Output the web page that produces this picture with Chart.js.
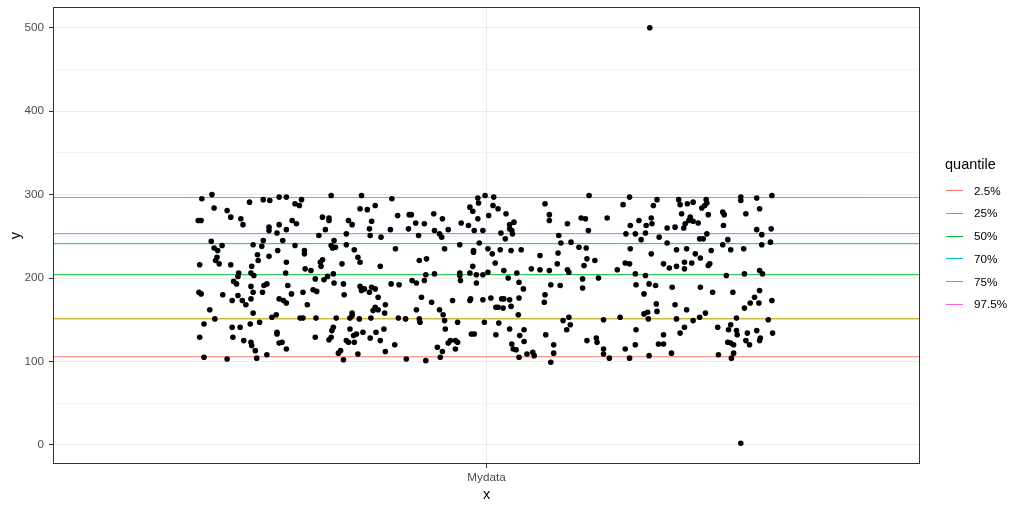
<!DOCTYPE html>
<html>
<head>
<meta charset="utf-8">
<script src="https://cdn.jsdelivr.net/npm/chart.js@4"></script>
<style>
  html, body { margin: 0; padding: 0; background: #fff; }
  #wrap { position: relative; width: 1024px; height: 510px; }
  #legend { position: absolute; left: 0; top: 0; font-family: "Liberation Sans", Arial, sans-serif; }
  .lg-title { position: absolute; left: 945px; top: 155px; font-size: 14.5px; line-height: 18px; color: #000; white-space: nowrap; }
  .lg-line { position: absolute; left: 946px; width: 17px; height: 1px; }
  .lg-text { position: absolute; left: 974px; font-size: 11.7px; line-height: 16px; color: #000; white-space: nowrap; }
</style>
</head>
<body>
<div id="wrap"><canvas id="chart"></canvas><div id="legend"></div></div>
<script>
// categories on the x axis
const categories = ["Mydata"];

// jitter offset of every point around its category
const jitterX = [
  -0.380,-0.394,-0.328,-0.309,-0.300,-0.287,-0.277,-0.377,-0.359,-0.354,
  -0.340,-0.337,-0.399,-0.395,-0.301,-0.301,-0.287,-0.290,-0.277,-0.381,
  -0.309,-0.282,-0.377,-0.372,-0.366,-0.323,-0.311,-0.289,-0.317,-0.301,
  -0.373,-0.375,-0.370,-0.316,-0.397,-0.354,-0.325,-0.277,-0.343,-0.344,
  -0.326,-0.322,-0.278,-0.350,-0.346,-0.398,-0.395,-0.365,-0.326,-0.308,
  -0.304,-0.323,-0.310,-0.275,-0.344,-0.352,-0.338,-0.333,-0.326,-0.287,
  -0.281,-0.277,-0.383,-0.323,-0.376,-0.297,-0.291,-0.391,-0.352,-0.341,
  -0.327,-0.314,-0.290,-0.290,-0.397,-0.351,-0.336,-0.326,-0.325,-0.287,
  -0.283,-0.277,-0.320,-0.391,-0.359,-0.318,-0.304,
  -0.256,-0.265,-0.259,-0.215,-0.173,-0.175,-0.165,-0.154,-0.269,-0.263,
  -0.227,-0.218,-0.218,-0.223,-0.191,-0.186,-0.159,-0.162,-0.161,-0.146,
  -0.232,-0.194,-0.211,-0.215,-0.213,-0.209,-0.194,-0.183,-0.265,-0.252,
  -0.252,-0.178,-0.175,-0.227,-0.230,-0.229,-0.200,-0.147,-0.251,-0.243,
  -0.212,-0.220,-0.225,-0.237,-0.211,-0.198,-0.270,-0.254,-0.240,-0.235,
  -0.197,-0.175,-0.173,-0.169,-0.159,-0.154,-0.162,-0.150,-0.248,-0.154,
  -0.157,-0.150,-0.140,-0.141,-0.186,-0.186,-0.258,-0.254,-0.236,-0.208,
  -0.189,-0.176,-0.160,-0.212,-0.214,-0.189,-0.171,-0.180,-0.184,-0.153,
  -0.142,-0.237,-0.215,-0.218,-0.194,-0.191,-0.183,-0.161,-0.147,-0.202,
  -0.205,-0.178,-0.140,-0.198,
  -0.131,-0.012,-0.011,-0.023,-0.019,-0.012,-0.123,-0.107,-0.104,-0.073,
  -0.061,-0.098,-0.086,-0.035,-0.025,-0.133,-0.108,-0.072,-0.065,-0.062,
  -0.053,-0.017,-0.005,-0.094,-0.010,-0.037,-0.126,-0.058,-0.018,-0.018,
  -0.083,-0.093,-0.019,-0.084,-0.072,-0.037,-0.037,-0.023,-0.014,-0.005,
  -0.132,-0.121,-0.103,-0.097,-0.086,-0.036,-0.014,-0.090,-0.076,-0.047,
  -0.023,-0.022,-0.005,-0.097,-0.065,-0.060,-0.122,-0.112,-0.093,-0.092,
  -0.058,-0.040,-0.003,-0.057,-0.021,-0.017,-0.127,-0.053,-0.050,-0.043,
  -0.040,-0.068,-0.061,-0.043,-0.064,-0.111,-0.084,
  -0.002,0.010,0.081,0.009,0.016,0.003,0.027,0.087,0.087,0.131,
  0.038,0.032,0.032,0.035,0.036,0.020,0.026,0.112,0.100,0.103,
  0.117,0.128,0.002,0.019,0.034,0.048,0.008,0.074,0.099,0.012,
  0.098,0.002,0.024,0.042,0.062,0.074,0.087,0.112,0.114,0.030,
  0.045,0.051,0.089,0.102,0.133,0.133,0.081,0.080,0.006,0.021,
  0.024,0.032,0.045,0.013,0.016,0.023,0.034,0.044,0.017,0.106,
  0.114,0.116,0.111,0.032,0.052,0.013,0.046,0.082,0.052,0.035,
  0.093,0.037,0.041,0.056,0.064,0.066,0.093,0.045,0.089,
  0.142,0.198,0.236,0.266,0.189,0.231,0.268,0.137,0.167,0.211,
  0.228,0.229,0.221,0.199,0.141,0.193,0.206,0.220,0.250,0.261,
  0.214,0.239,0.250,0.138,0.199,0.263,0.228,0.139,0.150,0.135,
  0.192,0.198,0.245,0.253,0.263,0.181,0.206,0.220,0.155,0.207,
  0.225,0.234,0.257,0.218,0.235,0.261,0.236,0.218,0.223,0.185,
  0.224,0.162,0.263,0.207,0.268,0.245,0.139,0.152,0.153,0.206,
  0.238,0.245,0.162,0.192,0.162,0.256,0.170,0.198,0.225,
  0.270,0.286,0.278,0.304,0.305,0.302,0.298,0.352,0.352,0.374,
  0.395,0.378,0.327,0.329,0.359,0.307,0.282,0.280,0.286,0.293,
  0.275,0.273,0.328,0.374,0.394,0.381,0.305,0.295,0.300,0.334,
  0.393,0.327,0.381,0.338,0.356,0.277,0.311,0.289,0.296,0.274,
  0.284,0.309,0.307,0.274,0.378,0.382,0.332,0.357,0.296,0.313,
  0.341,0.378,0.371,0.377,0.365,0.357,0.395,0.277,0.303,0.295,
  0.286,0.346,0.390,0.274,0.338,0.320,0.335,0.346,0.347,0.361,
  0.374,0.379,0.378,0.396,0.359,0.364,0.334,0.338,0.342,0.342,
  0.339,0.321,
  0.226,0.352
];

// y value of every point
const valuesY = [
  300,295,291,294,293,297,297,284,281,273,
  271,264,269,269,261,257,264,254,258,244,
  245,245,236,233,239,240,238,233,228,226,
  225,221,217,221,216,216,214,219,206,202,
  206,203,206,196,193,183,181,180,190,191,
  193,183,183,191,179,173,173,168,175,175,
  173,170,162,158,151,153,156,145,141,141,
  145,147,135,133,129,129,125,123,119,122,
  123,115,113,105,103,104,108,
  294,289,287,299,299,283,282,287,269,265,
  273,272,269,258,269,264,268,259,251,249,
  251,253,245,239,236,237,240,234,239,233,
  229,225,219,222,219,214,217,214,211,209,
  205,202,198,199,194,193,181,183,186,184,
  180,190,185,187,189,187,183,177,168,165,
  161,162,168,158,158,155,152,152,152,152,
  152,151,152,141,137,139,135,133,131,135,
  139,129,129,126,125,123,123,128,125,113,
  110,109,112,102,
  295,296,290,285,280,271,275,276,276,277,
  271,266,265,266,263,258,259,257,253,249,
  258,257,257,251,242,240,235,235,233,231,
  223,221,214,204,205,206,203,206,204,204,
  193,192,197,194,197,197,194,177,171,173,
  173,175,174,162,162,156,152,151,151,147,
  149,147,147,139,133,133,120,122,125,125,
  123,117,112,115,105,103,101,
  299,297,289,287,283,275,277,276,269,272,
  267,264,259,257,253,254,247,265,251,242,
  243,237,235,234,233,234,229,227,230,218,
  217,207,209,206,211,210,209,210,207,200,
  195,187,192,191,199,188,180,171,176,175,
  175,174,176,165,165,164,166,156,146,149,
  153,144,138,139,138,132,131,132,124,121,
  120,115,114,109,111,107,110,105,99,
  299,297,294,294,288,287,288,271,272,269,
  272,265,263,263,257,253,253,254,260,261,
  246,249,242,236,235,234,229,223,221,215,
  218,217,217,212,214,210,205,203,200,192,
  193,191,189,181,169,168,160,157,159,153,
  151,150,151,138,134,132,125,128,123,120,
  121,121,115,115,109,110,104,104,107,
  277,291,289,294,290,287,284,297,293,296,
  299,283,279,276,277,276,273,269,268,266,
  265,260,263,258,259,252,253,247,247,246,
  243,240,240,234,235,235,233,229,224,219,
  218,217,215,211,209,205,203,205,189,183,
  183,185,177,170,170,164,173,162,158,153,
  149,152,150,141,144,141,138,137,132,134,
  137,128,125,134,125,120,123,122,120,110,
  104,108,
  500,2
];

// horizontal quantile lines
const quantileLabels = ["2.5%", "25%", "50%", "70%", "75%", "97.5%"];
const quantileValues = [105.6, 151.2, 204.0, 241.2, 253.2, 296.6];
const quantileColors = ["#F8766D", "#B79F00", "#00BA38", "#00BFC4", "#619CFF", "#F564E3"];

// y axis labels
const yTicks = [0, 100, 200, 300, 400, 500];

const fontFam = '"Liberation Sans", Arial, sans-serif';

// axis limits like ggplot: discrete axis expands by 0.6, continuous by 5%
const xMin = 1 - 0.6;
const xMax = categories.length + 0.6;
const yLo = Math.min(...valuesY), yHi = Math.max(...valuesY);
const yPad = (yHi - yLo) * 0.05;

const points = jitterX.map((j, i) => ({ x: 1 + j, y: valuesY[i] }));

const lineSets = quantileValues.map((q, i) => ({
  type: "line",
  label: quantileLabels[i],
  data: [{ x: xMin, y: q }, { x: xMax, y: q }],
  borderColor: quantileColors[i],
  borderWidth: 1,
  pointRadius: 0,
  fill: false,
  order: 1
}));

const panelBorder = {
  id: "panelBorder",
  afterDatasetsDraw(chart) {
    const { ctx, chartArea: a } = chart;
    ctx.save();
    ctx.strokeStyle = "#333333";
    ctx.lineWidth = 1;
    ctx.strokeRect(a.left + 0.5, a.top + 0.5, a.right - a.left - 1, a.bottom - a.top - 1);
    ctx.restore();
  }
};

new Chart(document.getElementById("chart"), {
  type: "scatter",
  data: {
    datasets: [
      {
        label: "points",
        data: points,
        backgroundColor: "#000",
        borderWidth: 0,
        pointRadius: 2.8,
        order: 0
      },
      ...lineSets
    ]
  },
  options: {
    responsive: true,
    maintainAspectRatio: false,
    animation: false,
    layout: { padding: { top: 7, right: 104, bottom: 0, left: 0 } },
    plugins: { legend: { display: false }, tooltip: { enabled: false } },
    scales: {
      x: {
        type: "linear",
        min: xMin,
        max: xMax,
        afterBuildTicks: s => { s.ticks = categories.map((c, i) => ({ value: i + 1 })); },
        afterFit: s => { s.height = 46; s.paddingLeft = 0; s.paddingRight = 0; },
        ticks: {
          callback: v => categories[Math.round(v) - 1],
          color: "#4D4D4D",
          font: { family: fontFam, size: 11.7 },
          padding: 3,
          maxRotation: 0
        },
        grid: { color: "#EBEBEB", lineWidth: 1, tickColor: "#333333", tickLength: 4 },
        border: { display: false },
        title: {
          display: true, text: "x", color: "#000",
          font: { family: fontFam, size: 14.5 },
          padding: { top: 0, bottom: 6 }
        }
      },
      y: {
        type: "linear",
        min: yLo - yPad,
        max: yHi + yPad,
        afterBuildTicks: s => {
          const t = [];
          for (let v = yTicks[0]; v <= yTicks[yTicks.length - 1]; v += 50) t.push({ value: v });
          s.ticks = t;
        },
        afterFit: s => { s.width = 53; s.paddingTop = 0; s.paddingBottom = 0; },
        ticks: {
          callback: v => (yTicks.includes(v) ? String(v) : ""),
          color: "#4D4D4D",
          font: { family: fontFam, size: 11.7 },
          padding: 5
        },
        grid: {
          color: c => (yTicks.includes(c.tick.value) ? "#EBEBEB" : "#F5F5F5"),
          lineWidth: 1,
          tickColor: c => (yTicks.includes(c.tick.value) ? "#333333" : "rgba(0,0,0,0)"),
          tickLength: 4
        },
        border: { display: false },
        title: {
          display: true, text: "y", color: "#000",
          font: { family: fontFam, size: 14.5 },
          padding: { top: 7, bottom: 0 }
        }
      }
    }
  },
  plugins: [panelBorder]
});

// legend drawn as html next to the panel
const lg = document.getElementById("legend");
let html = '<div class="lg-title">quantile</div>';
quantileLabels.forEach((lab, i) => {
  const cy = 190.7 + 22.7 * i;
  html += '<div class="lg-line" style="top:' + (cy - 0.5) + 'px;background:' + quantileColors[i] + '"></div>';
  html += '<div class="lg-text" style="top:' + (cy - 8) + 'px">' + lab + '</div>';
});
lg.innerHTML = html;
</script>
</body>
</html>
